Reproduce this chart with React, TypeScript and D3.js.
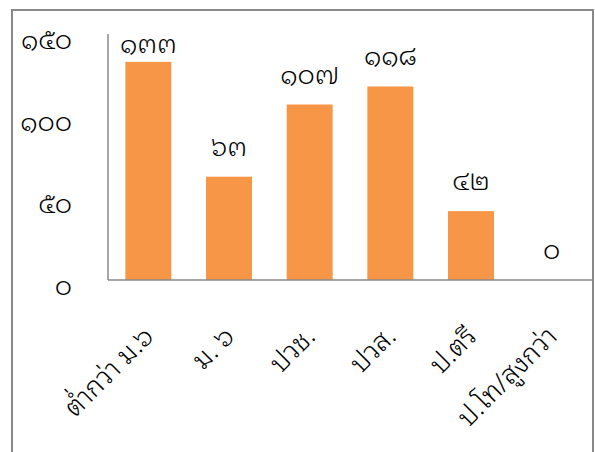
import React from 'react';
import * as d3 from 'd3';

const categories = ['ต่ำกว่า ม.๖', 'ม. ๖', 'ปวช.', 'ปวส.', 'ป.ตรี', 'ป.โท/สูงกว่า'];
const values = [133, 63, 107, 118, 42, 0];
const valueLabels = ['๑๓๓', '๖๓', '๑๐๗', '๑๑๘', '๔๒', '๐'];
const yTicks = [0, 50, 100, 150];
const yTickLabels = ['๐', '๕๐', '๑๐๐', '๑๕๐'];

const W = 595;
const H = 452;
const plot = { left: 108, right: 592, top: 34, bottom: 280 };
const font = '"Noto Sans Thai Looped", "Noto Sans Thai", sans-serif';

const App: React.FC = () => {
  const x = d3.scaleBand<string>()
    .domain(categories)
    .range([plot.left, plot.right])
    .paddingInner(0.43)
    .paddingOuter(0.215);

  const y = d3.scaleLinear()
    .domain([0, 150])
    .range([plot.bottom, plot.top]);

  const cx = (c: string) => (x(c) ?? 0) + x.bandwidth() / 2;

  return (
    <svg width={W} height={H} style={{ position: 'absolute', left: 0, top: 0 }}>
      <rect x={12} y={10} width={581} height={460} fill="#fff" stroke="#898989" strokeWidth={2} />

      {/* y axis labels */}
      {yTicks.map((t, i) => (
        <text key={t} x={72} y={y(t) + 15} textAnchor="end" fontSize={27} fontWeight={300} fontFamily={font} fill="#000">
          {yTickLabels[i]}
        </text>
      ))}

      {/* bars */}
      {values.map((v, i) => (
        <rect key={categories[i]} x={x(categories[i])} y={y(v)} width={x.bandwidth()}
          height={y(0) - y(v)} fill="#f79646" />
      ))}

      {/* value labels, the tallest one is pushed down to stay inside the plot */}
      {values.map((v, i) => (
        <text key={'v' + i} x={cx(categories[i])}
          y={Math.max(y(v) - 21, plot.top + 19)} textAnchor="middle" fontSize={27} fontWeight={300} fontFamily={font} fill="#000">
          {valueLabels[i]}
        </text>
      ))}

      {/* axes lines */}
      <line x1={plot.left} x2={plot.left} y1={plot.top} y2={plot.bottom} stroke="#898989" strokeWidth={1.5} />
      <line x1={plot.left} x2={plot.right} y1={plot.bottom} y2={plot.bottom} stroke="#898989" strokeWidth={1.5} />

      {/* category labels */}
      {categories.map((c) => (
        <text key={'c' + c} transform={`translate(${cx(c) + 7},${plot.bottom + 58}) rotate(-45)`}
          textAnchor="end" fontSize={27} fontWeight={300} fontFamily={font} fill="#000">
          {c}
        </text>
      ))}
    </svg>
  );
};

export default App;
